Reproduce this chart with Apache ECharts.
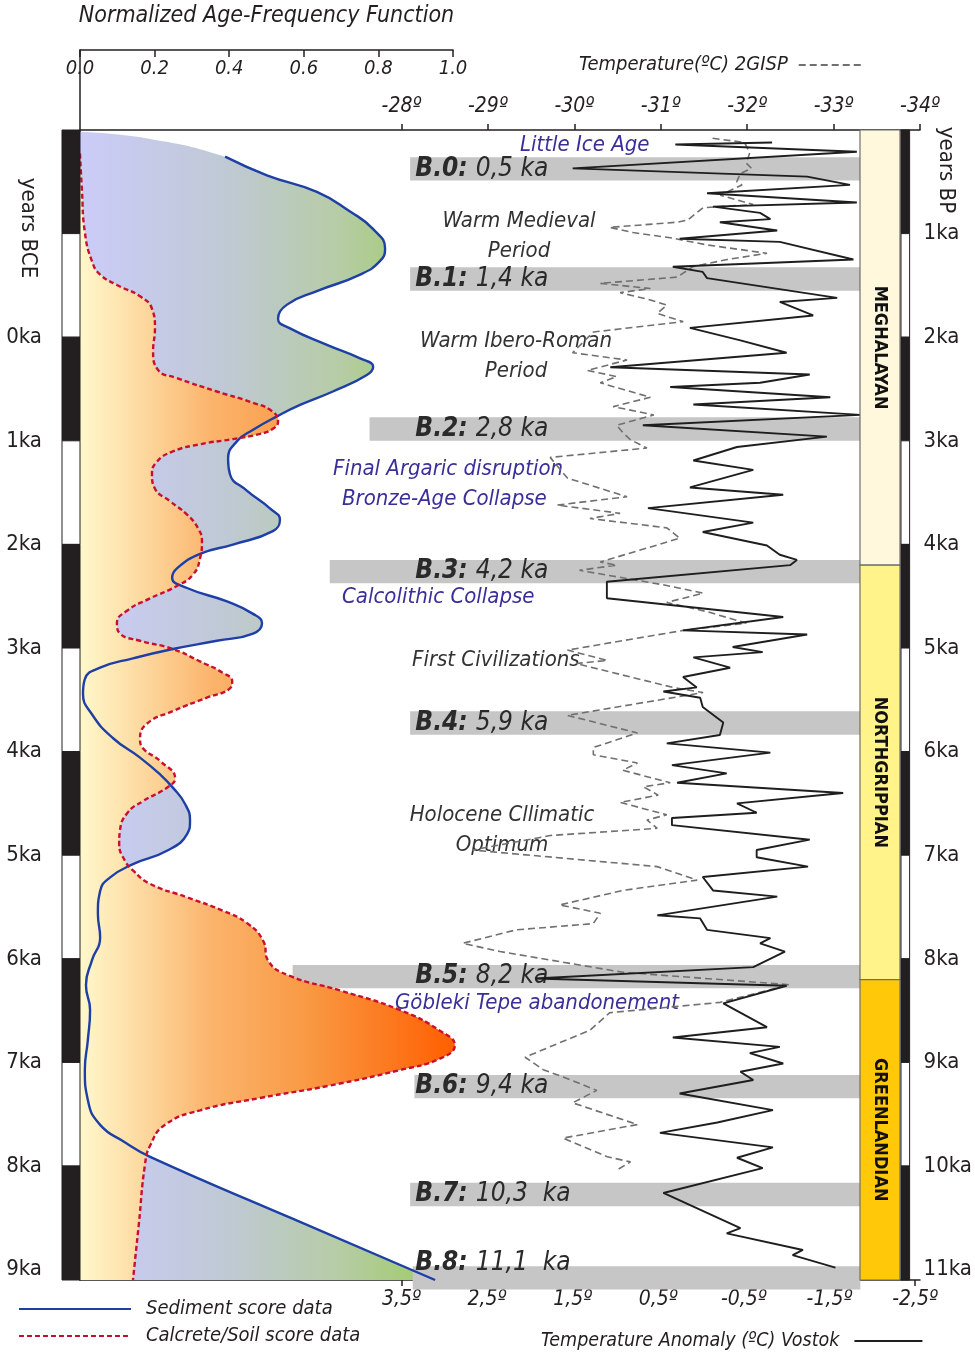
<!DOCTYPE html>
<html><head><meta charset="utf-8">
<script src="https://cdn.jsdelivr.net/npm/echarts@6/dist/echarts.min.js"></script>
<style>html,body{margin:0;padding:0;background:#fff}#c{width:975px;height:1354px}</style>
</head><body><div id="c"></div>
<script>
// ---------------- DATA ----------------
// Normalized age-frequency function (x: 0..1), ages in ka BP
const sedTopKa  = [0, 0.068];            // fill-only lead-in (no line drawn)
const sedTopVal = [0, 0.188];
const sedKa  = [0.24,0.42,0.58,0.77,0.94,1.13,1.25,1.38,1.54,1.67,1.81,1.90,2.06,2.19,2.27,2.35,2.51,2.64,2.75,2.88,2.99,3.16,3.31,3.47,3.64,3.75,3.86,3.99,4.08,4.22,4.31,4.41,4.54,4.66,4.75,4.85,4.92,5.00,5.09,5.18,5.29,5.43,5.63,5.86,6.05,6.21,6.34,6.50,6.66,6.79,6.95,7.08,7.21,7.34,7.56,7.79,8.01,8.25,8.49,8.78,9.07,9.36,9.60,9.77,9.91,10.50,11.10];
const sedVal = [0.389,0.501,0.635,0.724,0.786,0.818,0.804,0.751,0.635,0.555,0.531,0.563,0.662,0.751,0.786,0.769,0.678,0.590,0.528,0.464,0.421,0.397,0.402,0.448,0.509,0.536,0.517,0.410,0.322,0.260,0.247,0.287,0.394,0.464,0.488,0.464,0.367,0.249,0.142,0.054,0.013,0.008,0.032,0.088,0.161,0.214,0.249,0.282,0.295,0.287,0.233,0.142,0.080,0.054,0.048,0.054,0.032,0.016,0.027,0.021,0.013,0.021,0.054,0.121,0.188,0.565,0.952];
const calKa  = [0.21,0.55,0.97,1.25,1.38,1.48,1.59,1.71,1.90,2.12,2.30,2.38,2.51,2.61,2.70,2.80,2.87,2.92,2.97,3.02,3.09,3.19,3.31,3.45,3.57,3.70,3.83,3.96,4.12,4.28,4.39,4.51,4.63,4.75,4.85,4.92,5.00,5.12,5.23,5.31,5.38,5.47,5.60,5.72,5.87,5.96,6.08,6.25,6.34,6.47,6.59,6.76,6.88,7.05,7.14,7.27,7.40,7.53,7.65,7.82,8.01,8.16,8.30,8.49,8.69,8.83,8.96,9.07,9.22,9.34,9.46,9.60,9.80,9.99,10.55,11.10];
const calVal = [0.000,0.005,0.013,0.032,0.054,0.099,0.161,0.193,0.201,0.196,0.209,0.260,0.367,0.456,0.515,0.531,0.517,0.483,0.410,0.322,0.249,0.206,0.193,0.201,0.241,0.287,0.316,0.327,0.322,0.303,0.260,0.188,0.126,0.099,0.107,0.161,0.249,0.322,0.383,0.408,0.402,0.340,0.249,0.180,0.161,0.169,0.214,0.255,0.233,0.169,0.126,0.107,0.105,0.121,0.142,0.188,0.287,0.383,0.448,0.491,0.504,0.563,0.697,0.858,0.965,1.005,0.965,0.858,0.670,0.483,0.322,0.228,0.188,0.174,0.158,0.142];

// Vostok temperature anomaly (ºC)
const vosKa  = [0.12,0.14,0.21,0.37,0.45,0.53,0.61,0.70,0.74,0.80,0.86,0.89,0.97,1.05,1.08,1.25,1.32,1.37,1.43,1.62,1.66,1.79,1.91,2.03,2.15,2.29,2.36,2.44,2.48,2.58,2.65,2.75,2.85,2.96,3.06,3.19,3.28,3.45,3.52,3.65,3.79,3.88,4.01,4.10,4.15,4.20,4.36,4.52,4.70,4.83,4.87,4.99,5.04,5.09,5.19,5.28,5.38,5.42,5.48,5.57,5.72,5.84,5.92,6.01,6.13,6.21,6.30,6.40,6.50,6.59,6.64,6.71,6.85,6.95,7.02,7.11,7.21,7.34,7.40,7.58,7.61,7.72,7.80,7.85,7.93,8.08,8.19,8.26,8.43,8.66,8.76,8.85,8.91,9.01,9.09,9.17,9.30,9.46,9.58,9.68,9.82,9.92,10.02,10.26,10.60,10.65,10.81,10.86,10.98];
const vosVal = [-0.83,0.30,-1.82,1.50,-1.24,-1.74,-0.07,-1.82,-0.14,-0.69,-0.81,-0.22,-0.89,0.25,-0.92,-1.78,0.33,-0.02,-0.07,-1.59,-0.92,-1.31,0.13,-0.46,-1.00,1.06,-1.27,-0.69,0.36,-1.51,0.09,-1.86,0.68,-1.47,-0.42,0.09,-0.61,0.13,-0.96,0.62,-0.61,-0.02,-0.77,-0.92,-1.12,-1.04,1.10,1.10,-0.96,0.21,-1.24,-0.37,-0.72,0.09,-0.34,0.21,0.05,0.44,0.01,-0.02,-0.26,-0.22,0.40,-0.81,0.34,-0.30,0.28,-1.66,-0.42,-0.65,0.34,0.34,-1.27,-0.65,-0.65,-1.25,-0.02,-0.14,-0.89,0.51,0.01,-0.07,-0.81,-0.69,-0.98,-0.61,1.94,-1.00,-0.26,-0.77,0.33,-0.92,-0.57,-0.96,-0.46,-0.61,0.25,-0.84,-0.19,0.48,-0.84,-0.42,-0.72,0.44,-0.46,-0.30,-1.19,-1.07,-1.57];

// GISP2 temperature (ºC)
const gispKa  = [0.08,0.12,0.22,0.32,0.37,0.42,0.50,0.53,0.63,0.72,0.75,0.87,0.89,0.94,0.99,1.04,1.11,1.19,1.25,1.32,1.42,1.48,1.53,1.57,1.64,1.69,1.77,1.85,1.95,2.15,2.22,2.32,2.38,2.44,2.58,2.67,2.75,2.85,2.92,2.99,3.07,3.16,3.36,3.54,3.62,3.70,3.75,3.84,3.94,4.17,4.20,4.25,4.39,4.47,4.56,4.65,4.76,4.83,5.02,5.12,5.15,5.38,5.43,5.65,5.82,5.96,6.03,6.11,6.18,6.30,6.34,6.42,6.49,6.61,6.66,6.74,6.81,6.95,7.11,7.24,7.34,7.48,7.56,7.66,7.72,7.85,7.93,8.13,8.25,8.42,8.52,8.69,8.81,8.95,9.07,9.14,9.27,9.39,9.60,9.73,9.91,9.96,10.04];
const gispVal = [-31.60,-31.97,-32.03,-31.99,-32.05,-31.92,-31.88,-31.94,-31.69,-32.07,-31.49,-31.31,-31.19,-30.41,-30.68,-31.11,-31.54,-32.23,-31.77,-31.37,-31.19,-30.30,-30.88,-30.53,-30.88,-31.07,-30.96,-31.26,-30.22,-29.98,-30.61,-30.15,-30.49,-30.30,-30.88,-30.45,-30.92,-30.49,-30.56,-30.65,-30.84,-29.72,-29.92,-30.61,-29.80,-30.53,-30.18,-31.07,-31.22,-30.30,-30.49,-30.06,-31.03,-31.49,-31.07,-31.54,-31.99,-31.26,-29.92,-30.38,-30.02,-31.14,-31.49,-29.92,-30.73,-30.22,-30.22,-30.73,-30.56,-31.11,-30.80,-30.97,-30.53,-31.07,-30.84,-30.96,-29.72,-28.82,-30.96,-31.42,-30.56,-29.83,-30.30,-30.22,-29.33,-28.71,-29.14,-30.56,-32.49,-31.69,-30.41,-30.18,-29.83,-29.43,-29.64,-29.87,-30.26,-29.98,-30.73,-29.87,-30.38,-30.65,-30.49];

// Bond-type events
const bandNames    = ['B.0','B.1','B.2','B.3','B.4','B.5','B.6','B.7','B.8'];
const bandAges     = ['0,5 ka','1,4 ka','2,8 ka','4,2 ka','5,9 ka','8,2 ka','9,4 ka','10,3  ka','11,1  ka'];
const bandCenterKa = [0.376,1.438,2.886,4.262,5.724,8.171,9.233,10.275,11.08];
const bandStartT   = [-28.10,-28.10,-27.63,-27.17,-28.10,-26.74,-28.15,-28.10,-28.13];

// Holocene stages
const stageNames = ['MEGHALAYAN','NORTHGRIPPIAN','GREENLANDIAN'];
const stageStart = [0, 4.2, 8.2];
const stageEnd   = [4.2, 8.2, 11.7];

// tick labels
const affTicks    = [0, 0.2, 0.4, 0.6, 0.8, 1.0];
const gispTicks   = [-28,-29,-30,-31,-32,-33,-34];
const vosTicks    = [3.5,2.5,1.5,0.5,-0.5,-1.5,-2.5];
const bpTicks     = [1,2,3,4,5,6,7,8,9,10,11];
const bceTicks    = [2,3,4,5,6,7,8,9,10,11];   // in ka BP, labelled as BCE (BP-2)
const scaleBreaks = [0,1,2,3,4,5,6,7,8,9,10];

// ---------------- STYLE ----------------
const F = "'Liberation Sans Narrow','DejaVu Sans Condensed','Roboto Condensed','Arial Narrow','Liberation Sans',sans-serif";
const INK = '#231f20', BLUE = '#3a2f98', GREYTXT = '#333333';
const KA_MAX = 11.1;
const BAND_H = 0.225, BAND_END_T = -33.31, LABEL_T = -28.16;
const labelDy = [0,0,0,0,0,0,0,0,-15];

const toT = (ka, v) => ka.map((k, i) => [v[i], k * 1000]);   // time-axis (ms) for horizontal fills
const zip = (ka, v) => ka.map((k, i) => [v[i], k]);

const sedFill = toT(sedTopKa.concat(sedKa), sedTopVal.concat(sedVal));
const sedLine = toT(sedKa, sedVal);
const calFill = toT(calKa, calVal);
const calLine = toT(calKa, calVal);

const sedGrad = {type:'linear', x:80, y:0, x2:450, y2:0, global:true,
  colorStops:[{offset:0,color:'#cbccf9'},{offset:0.4,color:'#bfc9d4'},{offset:0.7,color:'#b6cca6'},{offset:1,color:'#9ccc5c'}]};
const calGrad = {type:'linear', x:80, y:0, x2:455, y2:0, global:true,
  colorStops:[{offset:0,color:'#fff8cc'},{offset:0.15,color:'#fddca4'},{offset:0.35,color:'#fbb46c'},{offset:0.6,color:'#f99a45'},{offset:1,color:'#ff5f00'}]};

const chart = echarts.init(document.getElementById('c'), null, {renderer:'canvas'});

function axisTxt(size, extra){ return Object.assign({fontFamily:F, fontSize:size, color:INK}, extra||{}); }

const notes = [
  {t:'Little Ice Age', x:520, y:145, a:'left', c:BLUE},
  {t:'Warm Medieval', x:519, y:221, a:'center', c:GREYTXT},
  {t:'Period', x:519, y:251, a:'center', c:GREYTXT},
  {t:'Warm Ibero-Roman', x:516, y:341, a:'center', c:GREYTXT},
  {t:'Period', x:516, y:371, a:'center', c:GREYTXT},
  {t:'Final Argaric disruption', x:333, y:469, a:'left', c:BLUE},
  {t:'Bronze-Age Collapse', x:342, y:499, a:'left', c:BLUE},
  {t:'Calcolithic Collapse', x:342, y:597, a:'left', c:BLUE},
  {t:'First Civilizations', x:412, y:660, a:'left', c:GREYTXT},
  {t:'Holocene Cllimatic', x:502, y:815, a:'center', c:GREYTXT},
  {t:'Optimum', x:502, y:845, a:'center', c:GREYTXT},
  {t:'Göbleki Tepe abandonement', x:395, y:1003, a:'left', c:BLUE}
];

const graphics = notes.map(n => ({type:'text', x:n.x, y:n.y, z:0, silent:true,
  style:{text:n.t, fill:n.c, font:"italic 22px " + F, align:n.a, verticalAlign:'middle'}}));
graphics.push({type:'text', x:28, y:228, rotation:-Math.PI/2, silent:true,
  style:{text:'years BCE', fill:INK, font:"22px " + F, align:'center', verticalAlign:'middle'}});
graphics.push({type:'text', x:946, y:170, rotation:-Math.PI/2, silent:true,
  style:{text:'years BP', fill:INK, font:"22px " + F, align:'center', verticalAlign:'middle'}});

function renderBand(params, api){
  const i = api.value(0);
  const c = bandCenterKa[i];
  const p1 = api.coord([bandStartT[i], c - BAND_H/2]);
  const p2 = api.coord([BAND_END_T, c + BAND_H/2]);
  const tp = api.coord([LABEL_T, c]);
  return {type:'group', children:[
    {type:'rect', shape:{x:p1[0], y:p1[1], width:p2[0]-p1[0], height:p2[1]-p1[1]}, style:{fill:'#c6c6c6'}},
    {type:'text', x:tp[0], y:tp[1] + labelDy[i], style:{
      text:'{b|' + bandNames[i] + ': }{n|' + bandAges[i] + '}',
      align:'left', verticalAlign:'middle',
      rich:{ b:{fontFamily:F, fontSize:26, fontStyle:'italic', fontWeight:'bold', fill:'#2a2a2a'},
             n:{fontFamily:F, fontSize:26, fontStyle:'italic', fill:'#2a2a2a'} } }}
  ]};
}
function renderStage(params, api){
  const i = api.value(0);
  const e = Math.min(stageEnd[i], KA_MAX);
  const p1 = api.coord([0, stageStart[i]]);
  const p2 = api.coord([1, e]);
  const fills = ['#fff8dc','#fff38a','#ffc90a'];
  return {type:'group', children:[
    {type:'rect', shape:{x:p1[0], y:p1[1], width:p2[0]-p1[0], height:p2[1]-p1[1]}, style:{fill:fills[i], stroke:'#6e6e6e', lineWidth:1.2}},
    {type:'text', x:(p1[0]+p2[0])/2, y:(p1[1]+p2[1])/2, rotation:-Math.PI/2, style:{
      text:stageNames[i], fill:'#111', font:"bold 18px " + F, align:'center', verticalAlign:'middle'}}
  ]};
}
function renderScale(params, api){
  const k = api.value(0);
  const y0 = scaleBreaks[k];
  const y1 = k + 1 < scaleBreaks.length ? scaleBreaks[k+1] : KA_MAX;
  const p1 = api.coord([0, y0]);
  const p2 = api.coord([1, y1]);
  const black = k % 2 === 0;
  return {type:'rect', shape:{x:p1[0], y:p1[1], width:p2[0]-p1[0], height:p2[1]-p1[1]},
    style:{fill: black ? INK : '#ffffff', stroke: INK, lineWidth:1}};
}

const hiddenX = (g) => ({gridIndex:g, type:'value', min:0, max:1, show:false});
const hiddenY = (g) => ({gridIndex:g, type:'value', min:0, max:KA_MAX, inverse:true, show:false});

const option = {
  backgroundColor:'#ffffff',
  animation:false,
  grid:[
    {left:80, top:48, width:373, height:1232},
    {left:80, top:130, width:840, height:1150},
    {left:860, top:130, width:40, height:1150},
    {left:62, top:130, width:18, height:1150},
    {left:901, top:130, width:18, height:1150}
  ],
  xAxis:[
    {gridIndex:0, type:'value', position:'top', min:0, max:1, interval:0.2,
      name:'Normalized Age-Frequency Function', nameLocation:'middle', nameGap:22,
      nameTextStyle:axisTxt(23,{fontStyle:'italic'}),
      axisLine:{show:true, lineStyle:{color:INK, width:1.5}},
      axisTick:{show:true, inside:true, length:7, customValues:affTicks, lineStyle:{color:INK, width:1.5}},
      axisLabel:{inside:true, margin:9, customValues:affTicks, formatter:v=>v.toFixed(1), ...axisTxt(20,{fontStyle:'italic'})},
      splitLine:{show:false}},
    {gridIndex:1, type:'value', position:'top', min:-34, max:-24.28, inverse:true,
      axisLine:{show:true, lineStyle:{color:INK, width:1.5}},
      axisTick:{show:true, length:6, customValues:gispTicks, lineStyle:{color:INK, width:1.5}},
      axisLabel:{margin:13, customValues:gispTicks, formatter:v=>v+'º', ...axisTxt(21,{fontStyle:'italic'})},
      splitLine:{show:false}},
    {gridIndex:1, type:'value', position:'bottom', min:-2.558, max:7.255, inverse:true,
      axisLine:{show:true, lineStyle:{color:INK, width:1.5}},
      axisTick:{show:true, length:6, customValues:vosTicks, lineStyle:{color:INK, width:1.5}},
      axisLabel:{margin:9, customValues:vosTicks, formatter:v=>String(v.toFixed(1)).replace('.',',')+'º', ...axisTxt(21,{fontStyle:'italic'})},
      splitLine:{show:false}},
    hiddenX(2), hiddenX(3), hiddenX(4)
  ],
  yAxis:[
    {gridIndex:0, type:'time', inverse:true, min:-791.5, max:11100,
      axisLine:{show:true, lineStyle:{color:INK, width:1.5}}, axisTick:{show:false}, axisLabel:{show:false}, splitLine:{show:false}},
    hiddenY(1), hiddenY(2),
    {gridIndex:3, type:'value', min:0, max:KA_MAX, inverse:true, position:'left',
      axisLine:{show:false}, axisTick:{show:false}, splitLine:{show:false},
      axisLabel:{customValues:bceTicks, formatter:v=>(v-2)+'ka', margin:20, padding:[16,0,0,0], ...axisTxt(22)}},
    {gridIndex:4, type:'value', min:0, max:KA_MAX, inverse:true, position:'right',
      axisLine:{show:false}, axisTick:{show:false}, splitLine:{show:false},
      axisLabel:{customValues:bpTicks, formatter:v=>v+'ka', margin:14, padding:[16,0,0,0], ...axisTxt(22)}}
  ],
  legend:[
    {data:['Sediment score data','Calcrete/Soil score data'], orient:'vertical', left:13, top:1294,
      itemWidth:112, itemHeight:14, itemGap:7, selectedMode:false, itemStyle:{opacity:0},
      textStyle:axisTxt(20,{fontStyle:'italic', padding:[0,0,0,10]})},
    {data:['Temperature(ºC) 2GISP'], left:574, top:50, align:'right', itemWidth:64, itemHeight:14,
      selectedMode:false, itemStyle:{opacity:0}, textStyle:axisTxt(20,{fontStyle:'italic', padding:[0,6,0,0]})},
    {data:['Temperature Anomaly (ºC) Vostok'], left:536, top:1326, align:'right', itemWidth:68, itemHeight:14,
      selectedMode:false, itemStyle:{opacity:0}, textStyle:axisTxt(19.5,{fontStyle:'italic', padding:[0,10,0,0]})}
  ],
  graphic:{elements:graphics},
  series:[
    {name:'sedFill', type:'line', xAxisIndex:0, yAxisIndex:0, data:sedFill, smooth:0.5, symbol:'none',
      lineStyle:{width:0, opacity:0}, areaStyle:{color:sedGrad, opacity:1}, z:1, silent:true, clip:false},
    {name:'calFill', type:'line', xAxisIndex:0, yAxisIndex:0, data:calFill, smooth:0.5, symbol:'none',
      lineStyle:{width:0, opacity:0}, areaStyle:{color:calGrad, opacity:1}, z:2, silent:true, clip:false},
    {name:'bands', type:'custom', xAxisIndex:1, yAxisIndex:1, renderItem:renderBand,
      data:bandCenterKa.map((c,i)=>[i]), z:1, silent:true, clip:false},
    {name:'Sediment score data', type:'line', xAxisIndex:0, yAxisIndex:0, data:sedLine, smooth:0.5, symbol:'none',
      lineStyle:{color:'#1d3fa6', width:2.4}, itemStyle:{color:'#1d3fa6'}, z:4, silent:true, clip:false},
    {name:'Calcrete/Soil score data', type:'line', xAxisIndex:0, yAxisIndex:0, data:calLine, smooth:0.5, symbol:'none',
      lineStyle:{color:'#c8102e', width:2.4, type:[5,3]}, itemStyle:{color:'#c8102e'}, z:5, silent:true, clip:false},
    {name:'Temperature(ºC) 2GISP', type:'line', xAxisIndex:1, yAxisIndex:1, data:zip(gispKa, gispVal), symbol:'none',
      lineStyle:{color:'#707070', width:1.6, type:[7,4]}, itemStyle:{color:'#707070'}, z:6, silent:true},
    {name:'Temperature Anomaly (ºC) Vostok', type:'line', xAxisIndex:2, yAxisIndex:1, data:zip(vosKa, vosVal), symbol:'none',
      lineStyle:{color:'#1e1e1e', width:1.9}, itemStyle:{color:'#1e1e1e'}, z:7, silent:true},
    {name:'stages', type:'custom', xAxisIndex:3, yAxisIndex:2, renderItem:renderStage,
      data:stageNames.map((s,i)=>[i]), z:10, silent:true},
    {name:'scaleL', type:'custom', xAxisIndex:4, yAxisIndex:3, renderItem:renderScale,
      data:scaleBreaks.map((b,i)=>[i]), z:10, silent:true},
    {name:'scaleR', type:'custom', xAxisIndex:5, yAxisIndex:4, renderItem:renderScale,
      data:scaleBreaks.map((b,i)=>[i]), z:10, silent:true}
  ]
};
chart.setOption(option);
</script></body></html>
